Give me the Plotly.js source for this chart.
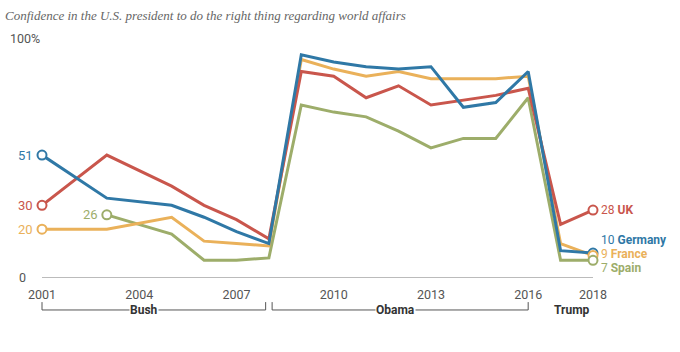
<!DOCTYPE html>
<html>
<head>
<meta charset="utf-8">
<script src="https://cdn.plot.ly/plotly-3.0.1.min.js"></script>
<style>html,body{margin:0;padding:0;background:#fff;}#chart{width:680px;height:352px;}</style>
</head>
<body>
<div id="chart"></div>
<script>
// ---- data ----
var years   = [2001, 2003, 2005, 2006, 2007, 2008, 2009, 2010, 2011, 2012, 2013, 2014, 2015, 2016, 2017, 2018];
var uk      = [30, 51, 38, 30, 24, 16, 86, 84, 75, 80, 72, 74, 76, 79, 22, 28];
var france  = [20, 20, 25, 15, 14, 13, 91, 87, 84, 86, 83, 83, 83, 84, 14, 9];
var germany = [51, 33, 30, 25, 19, 14, 93, 90, 88, 87, 88, 71, 73, 86, 11, 10];
var spain   = [null, 26, 18, 7, 7, 8, 72, 69, 67, 61, 54, 58, 58, 75, 7, 7];
var countries = ["UK", "Germany", "France", "Spain"];
var tickYears = [2001, 2004, 2007, 2010, 2013, 2016, 2018];
var presidents = ["Bush", "Obama", "Trump"];
var terms = [[2001, 2007.9], [2008.1, 2016], [2017, 2018]];

var series = {UK: uk, Germany: germany, France: france, Spain: spain};
var colors = {UK: "#c9564c", Germany: "#2f78a6", France: "#eab15a", Spain: "#9dad6a"};
var endShift = {UK: 0, Germany: 13, France: 1, Spain: -8};
var drawOrder = ["Spain", "France", "UK", "Germany"];

var traces = [];
var annotations = [];
drawOrder.forEach(function (c) {
  var vals = series[c];
  traces.push({
    x: years, y: vals, type: "scatter", mode: "lines", connectgaps: false,
    line: {color: colors[c], width: 3}, hoverinfo: "skip", showlegend: false
  });
});
countries.forEach(function (c) {
  var vals = series[c];
  var first = -1, last = -1;
  for (var i = 0; i < vals.length; i++) { if (vals[i] !== null) { if (first < 0) first = i; last = i; } }
  traces.push({
    x: [years[first], years[last]], y: [vals[first], vals[last]], type: "scatter", mode: "markers",
    cliponaxis: false, hoverinfo: "skip", showlegend: false,
    marker: {symbol: "circle", size: 9, color: "#ffffff", line: {color: colors[c], width: 2}}
  });
  annotations.push({
    x: years[first], y: vals[first], xref: "x", yref: "y", showarrow: false,
    xanchor: "right", yanchor: "middle", xshift: -7,
    text: String(vals[first]), font: {family: "Roboto, sans-serif", size: 13, color: colors[c]}
  });
  annotations.push({
    x: years[last], y: vals[last], xref: "x", yref: "y", showarrow: false,
    xanchor: "left", yanchor: "middle", xshift: 7, yshift: endShift[c], borderpad: 0,
    text: vals[last] + " <b>" + c + "</b>", font: {family: "Roboto, sans-serif", size: 12, color: colors[c]}
  });
});

// axis labels
annotations.push({x: 0, y: 0, xref: "paper", yref: "y", xanchor: "right", yanchor: "middle", xshift: -14, showarrow: false,
  text: "0", font: {family: "Roboto, sans-serif", size: 12.5, color: "#555"}});
annotations.push({x: 0, y: 100, xref: "paper", yref: "y", xanchor: "right", yanchor: "middle", showarrow: false,
  text: "100%", font: {family: "Roboto, sans-serif", size: 12.5, color: "#555"}});

// brackets
var shapes = [];
var x0 = 2001, x1 = 2018;
function px(yr) { return (yr - x0) / (x1 - x0); }
var yTop = -0.105, yBot = -0.138;
var labelX = [2004.15, 2011.9, 2017.36];
presidents.forEach(function (p, i) {
  var t = terms[i];
  if (p !== "Trump") {
    shapes.push({type: "path", xref: "paper", yref: "paper",
      path: "M" + px(t[0]) + "," + yTop + " L" + px(t[0]) + "," + yBot + " L" + px(t[1]) + "," + yBot + " L" + px(t[1]) + "," + yTop,
      line: {color: "#555", width: 1}});
  }
  annotations.push({x: labelX[i], y: yBot, xref: "x", yref: "paper", showarrow: false,
    xanchor: "center", yanchor: "middle", bgcolor: "#ffffff", borderpad: 0,
    text: "<b>" + p + "</b>", font: {family: "Roboto, sans-serif", size: 12, color: "#333"}});
});

var layout = {
  width: 680, height: 352,
  margin: {l: 42, r: 87, t: 38, b: 75},
  paper_bgcolor: "#fff", plot_bgcolor: "#fff",
  title: {text: "<i>Confidence in the U.S. president to do the right thing regarding world affairs</i>",
    x: 5 / 680, xanchor: "left", xref: "container", y: 0.955, yanchor: "middle", yref: "container",
    font: {family: "Liberation Serif, serif", size: 13, color: "#666"}},
  xaxis: {range: [x0, x1], tickvals: tickYears, ticktext: tickYears.map(String), showgrid: false, zeroline: false,
    showline: true, linecolor: "#bbb", linewidth: 1, ticks: "", ticklabelstandoff: 6,
    tickfont: {family: "Roboto, sans-serif", size: 12.5, color: "#555"}, fixedrange: true},
  yaxis: {range: [0, 100], showgrid: false, zeroline: false, showticklabels: false, ticks: "", showline: false, fixedrange: true},
  shapes: shapes,
  annotations: annotations.concat([
    {x: 0, xref: "container", y: 12, yref: "container", xanchor: "left", yanchor: "middle", xshift: 5, showarrow: false,
     text: "Source: Spring 2018 Global Attitudes Survey. Q35a.", font: {family: "Roboto, sans-serif", size: 10.5, color: "#999"}}
  ]),
  showlegend: false
};
Plotly.newPlot("chart", traces, layout, {displayModeBar: false, staticPlot: true});
</script>
</body>
</html>
